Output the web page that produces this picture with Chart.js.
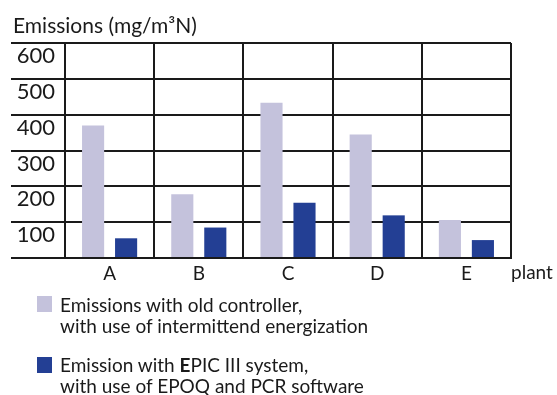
<!DOCTYPE html>
<html>
<head>
<meta charset="utf-8">
<script src="https://cdn.jsdelivr.net/npm/chart.js@4.4.0/dist/chart.umd.min.js"></script>
<style>
  body { margin: 0; background: #fff; font-family: Lato, "DejaVu Sans", sans-serif; color: #1a1a1a; }
  #wrap { position: relative; width: 557px; height: 395px; overflow: hidden; }
  .lbl { position: absolute; white-space: nowrap; line-height: 1.2; }
  #yTitle { left: 13px; top: 12px; font-size: 21px; }
  #xTitle { left: 511px; top: 261px; font-size: 19px; }
  .swatch { position: absolute; left: 37px; width: 15px; height: 16px; }
  .legText { position: absolute; left: 60px; font-size: 19px; line-height: 21px; white-space: nowrap; }
</style>
</head>
<body>
<div id="wrap">
  <canvas id="emChart" width="557" height="395"></canvas>
  <div class="lbl" id="yTitle">Emissions (mg/m³N)</div>
  <div class="lbl" id="xTitle">plant</div>
  <div class="swatch" id="sw1" style="top:296px"></div>
  <div class="legText" style="top:294px">Emissions with old controller,<br>with use of intermittend energization</div>
  <div class="swatch" id="sw2" style="top:357px"></div>
  <div class="legText" style="top:354px">Emission with <b>E</b>PIC III system,<br>with use of EPOQ and PCR software</div>
</div>
<script>
const plants = ["A", "B", "C", "D", "E"];
const oldController = [370, 178, 433, 345, 106];
const epicSystem = [55, 85, 154, 119, 50];
const yTicks = [0, 100, 200, 300, 400, 500, 600];

const lightColor = "#c4c2dc";
const darkColor = "#233f94";
const lineColor = "#1a1a1a";

document.getElementById("sw1").style.background = lightColor;
document.getElementById("sw2").style.background = darkColor;

const ctx = document.getElementById("emChart").getContext("2d");

new Chart(ctx, {
  type: "bar",
  data: {
    labels: plants,
    datasets: [
      {
        label: "Emissions with old controller",
        data: oldController,
        backgroundColor: lightColor
      },
      {
        label: "Emission with EPIC III system",
        data: epicSystem,
        backgroundColor: darkColor
      }
    ]
  },
  options: {
    responsive: false,
    animation: false,
    categoryPercentage: 0.74,
    barPercentage: 0.67,
    layout: { padding: { top: 43, right: 46, bottom: 105, left: 0 } },
    plugins: {
      legend: { display: false },
      tooltip: { enabled: false }
    },
    scales: {
      x: {
        grid: { color: lineColor, lineWidth: 2, drawTicks: false, offset: true },
        border: { color: lineColor, width: 2 },
        ticks: { color: lineColor, font: { family: "Lato", size: 19 }, padding: 4 },
        // labels are clipped to the axis box, so keep it tall enough
        afterFit: (scale) => { scale.height = 32; }
      },
      y: {
        min: 0,
        max: 600,
        afterBuildTicks: (scale) => { scale.ticks = yTicks.map(v => ({ value: v })); },
        grid: { color: lineColor, lineWidth: 2, tickLength: 54 },
        border: { color: lineColor, width: 2 },
        ticks: {
          color: lineColor,
          font: { family: "Lato", size: 22 },
          padding: -44,
          labelOffset: 13,
          callback: (v) => v === 0 ? "" : v
        },
        afterFit: (scale) => { scale.width = 65; }
      }
    }
  }
});
</script>
</body>
</html>
